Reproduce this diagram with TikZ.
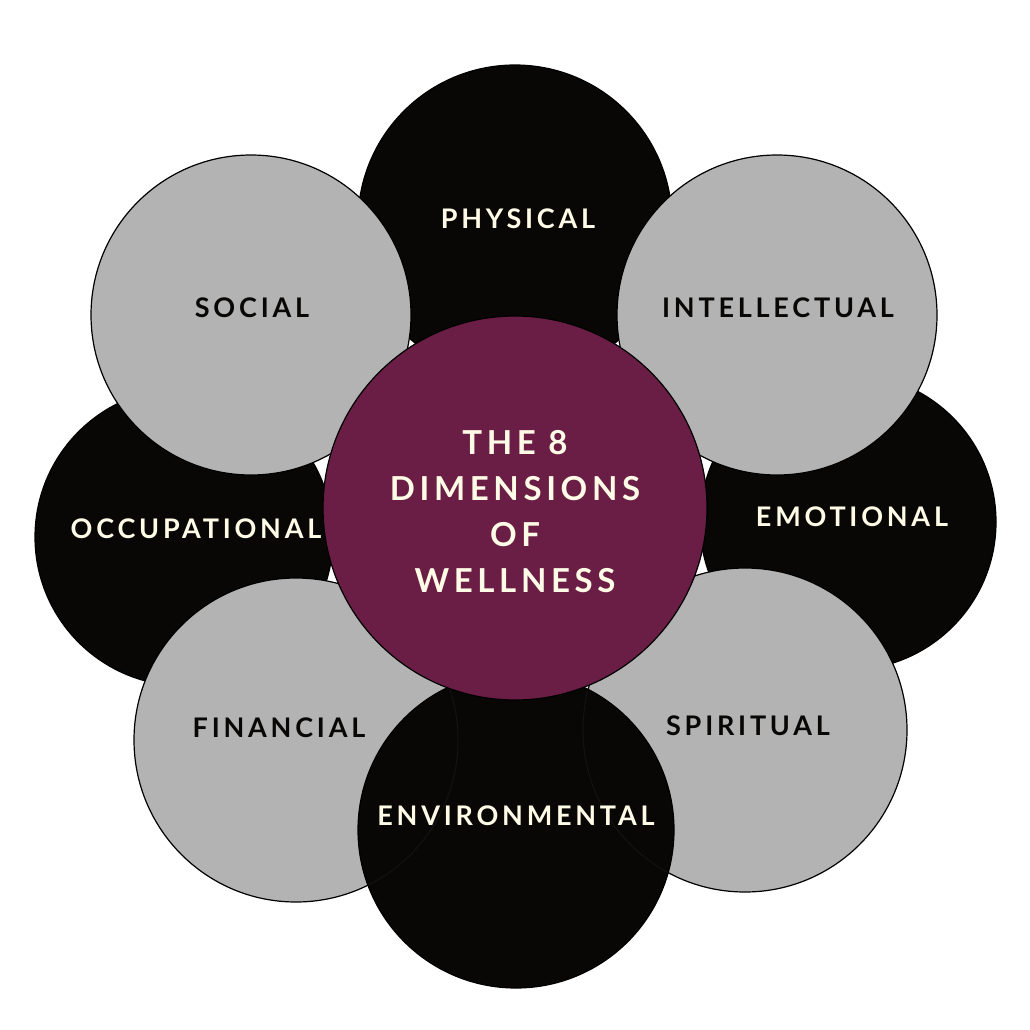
\documentclass[tikz,border=0pt]{standalone}
\usepackage{fontspec}
\setmainfont{Lato}[UprightFont=* Bold]
\definecolor{gry}{HTML}{B3B3B3}
\definecolor{maroon}{HTML}{6A1D45}
\definecolor{cream}{HTML}{FFFBE6}
\definecolor{blk}{HTML}{080706}
\begin{document}
\begin{tikzpicture}[x=1pt,y=-1pt,
  dark/.style={circle,fill=blk,draw=black,line width=1.2pt},
  light/.style={circle,fill=gry,draw=black,line width=1.2pt},
  ghost/.style={circle,draw=black!85!gray,line width=1pt},
  lab/.style={font=\fontsize{27}{30}\selectfont\addfontfeatures{LetterSpace=14}},
  dlab/.style={lab,text=cream},
  llab/.style={lab,text=blk}]
\useasboundingbox (0,0) rectangle (1030,1030);
\fill[white] (0,0) rectangle (1030,1030);
\node[dark,minimum size=314pt] (phy) at (515,222) {};
\node[dark,minimum size=296pt] (emo) at (848,522) {};
\node[dark,minimum size=298pt] (occ) at (184,537) {};
\node[light,minimum size=320pt] (int) at (777,315) {};
\node[light,minimum size=324pt] (spi) at (745,730) {};
\node[light,minimum size=324pt] (fin) at (296,740) {};
\node[light,minimum size=320pt] (soc) at (251,315) {};
\node[dark,minimum size=316pt] (env) at (516,830) {};
\begin{scope}
\clip (516,830) circle (157pt);
\node[ghost,minimum size=324pt] (spig) at (745,730) {};
\node[ghost,minimum size=324pt] (fing) at (296,740) {};
\end{scope}
\node[circle,fill=maroon,draw=black,line width=1.2pt,minimum size=384pt] (ctr) at (515,508) {};
\node[dlab] (tphy) at (518,219) {PHYSICAL};
\node[llab] (tint) at (778,308) {INTELLECTUAL};
\node[dlab] (temo) at (852,517) {EMOTIONAL};
\node[llab] (tspi) at (748,726) {SPIRITUAL};
\node[dlab] (tenv) at (516,816) {ENVIRONMENTAL};
\node[llab] (tfin) at (279,728) {FINANCIAL};
\node[dlab] (tocc) at (196,529) {OCCUPATIONAL};
\node[llab] (tsoc) at (252,308) {SOCIAL};
\node[text=cream,align=center,font=\fontsize{33}{46}\selectfont\addfontfeatures{LetterSpace=14}] (tctr) at (515,512) {THE 8\\DIMENSIONS\\OF\\WELLNESS};
\end{tikzpicture}
\end{document}
